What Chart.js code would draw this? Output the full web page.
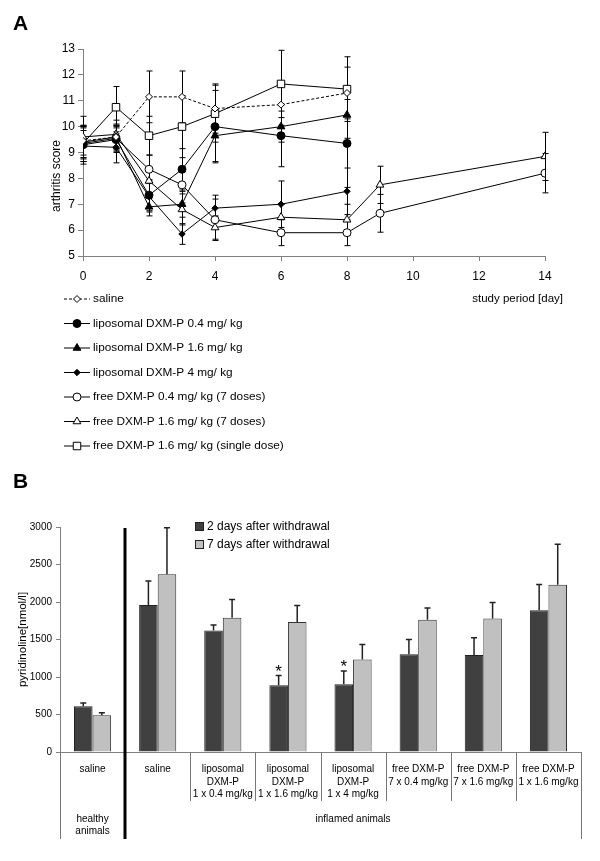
<!DOCTYPE html>
<html>
<head>
<meta charset="utf-8">
<script src="https://cdn.jsdelivr.net/npm/chart.js@4.4.0/dist/chart.umd.min.js"></script>
<style>
  body { margin: 0; background: #fff; width: 600px; height: 861px; position: relative; overflow: hidden;
         font-family: "Liberation Sans", Arial, sans-serif; }
  canvas { position: absolute; left: 0; }
  #cA { top: 0; }
  #cB { top: 458px; }
  .panel { position: absolute; font-weight: bold; font-size: 21px; z-index: 2; }
</style>
</head>
<body>
<canvas id="cA" width="600" height="458"></canvas>
<canvas id="cB" width="600" height="403"></canvas>
<div class="panel" style="left:13px; top:11px;">A</div>
<div class="panel" style="left:13px; top:469px;">B</div>
<script>
// ---------- panel A : arthritis score ----------
var daysShort = [0, 1, 2, 3, 4, 6, 8];
var daysLong = [0, 1, 2, 3, 4, 6, 8, 9, 14];

var saline = [9.45, 9.6, 11.15, 11.15, 10.7, 10.85, 11.3];
var salineErr = [0.55, 0.5, 1.0, 1.0, 0.95, 0.8, 1.0];
var lipo04 = [9.3, 9.5, 7.35, 8.35, 10.0, 9.65, 9.35];
var lipo04Err = [0.75, 0.5, 0.6, 0.8, 1.4, 1.2, 1.7];
var lipo16 = [9.4, 9.6, 6.9, 7.0, 9.65, 10.0, 10.45];
var lipo16Err = [0.6, 0.45, 0.35, 0.5, 1.0, 0.6, 0.9];
var lipo4 = [9.25, 9.2, 7.3, 5.85, 6.85, 7.0, 7.5];
var lipo4Err = [0.6, 0.6, 0.6, 0.4, 0.5, 0.9, 0.9];
var free04 = [9.35, 9.55, 8.35, 7.75, 6.4, 5.9, 5.9, 6.65, 8.2];
var free04Err = [0.6, 0.5, 0.55, 0.7, 0.8, 0.5, 0.5, 0.73, 0.76];
var free16 = [9.6, 9.7, 7.9, 6.8, 6.1, 6.5, 6.4, 7.75, 8.85];
var free16Err = [0.8, 0.55, 0.5, 0.6, 0.45, 0.5, 0.6, 0.72, 0.93];
var free16Single = [9.35, 10.75, 9.65, 10.0, 10.5, 11.65, 11.45];
var free16SingleErr = [0.7, 0.8, 0.75, 1.2, 1.1, 1.3, 1.25];

// ---------- panel B : pyridinoline ----------
var groupLabels = [
  ['saline'], ['saline'],
  ['liposomal', 'DXM-P', '1 x 0.4 mg/kg'],
  ['liposomal', 'DXM-P', '1 x 1.6 mg/kg'],
  ['liposomal', 'DXM-P', '1 x 4 mg/kg'],
  ['free DXM-P', '7 x 0.4 mg/kg'],
  ['free DXM-P', '7 x 1.6 mg/kg'],
  ['free DXM-P', '1 x 1.6 mg/kg']
];
var day2 = [610, 1960, 1620, 890, 905, 1305, 1295, 1890];
var day2Err = [45, 320, 75, 130, 175, 195, 230, 345];
var day2Sig = [false, false, false, true, true, false, false, false];
var day7 = [490, 2370, 1790, 1735, 1235, 1765, 1780, 2230];
var day7Err = [35, 620, 245, 220, 200, 155, 215, 540];
var animalGroups = [
  { text: ['healthy', 'animals'], first: 0, last: 0 },
  { text: ['inflamed animals'], first: 1, last: 7 }
];

var FONT = '"Liberation Sans", Arial, sans-serif';

function pts(days, vals) {
  return days.map(function (d, i) { return { x: d, y: vals[i] }; });
}

function line(label, days, vals, errs, shape, fill, radius, dash) {
  return {
    label: label,
    data: pts(days, vals),
    errors: errs,
    borderColor: '#000',
    borderWidth: 1,
    borderDash: dash || [],
    pointStyle: shape,
    pointRadius: radius,
    pointBackgroundColor: fill,
    pointBorderColor: '#000',
    pointBorderWidth: 1,
    tension: 0
  };
}

function drawPt(ctx, ds, x, y) {
  ctx.fillStyle = ds.pointBackgroundColor;
  ctx.strokeStyle = '#000';
  ctx.lineWidth = 1;
  Chart.helpers.drawPoint(ctx, { pointStyle: ds.pointStyle, radius: ds.pointRadius, borderWidth: 1, rotation: 0 }, x, y);
}

// error bars (both directions) behind the markers
var errorBarsA = {
  id: 'errorBarsA',
  beforeDatasetsDraw: function (chart) {
    var ctx = chart.ctx, ys = chart.scales.y;
    ctx.save();
    ctx.strokeStyle = '#000';
    ctx.lineWidth = 1;
    chart.data.datasets.forEach(function (ds, i) {
      chart.getDatasetMeta(i).data.forEach(function (p, j) {
        var v = ds.data[j].y, e = ds.errors[j];
        var top = ys.getPixelForValue(v + e), bot = ys.getPixelForValue(v - e);
        var x = Math.round(p.x) + 0.5;
        ctx.beginPath();
        ctx.moveTo(x, top); ctx.lineTo(x, bot);
        ctx.moveTo(x - 3, top); ctx.lineTo(x + 3, top);
        ctx.moveTo(x - 3, bot); ctx.lineTo(x + 3, bot);
        ctx.stroke();
      });
    });
    ctx.restore();
  }
};

// legend list, axis titles
var legendA = {
  id: 'legendA',
  afterDraw: function (chart) {
    var ctx = chart.ctx, area = chart.chartArea;
    ctx.save();
    ctx.fillStyle = '#000';
    ctx.font = '11.5px ' + FONT;
    ctx.textBaseline = 'middle';
    ctx.textAlign = 'right';
    ctx.fillText('study period [day]', area.right + 18, 299);

    ctx.save();
    ctx.translate(57, 176);
    ctx.rotate(-Math.PI / 2);
    ctx.textAlign = 'center';
    ctx.font = '12px ' + FONT;
    ctx.fillText('arthritis score', 0, 0);
    ctx.restore();

    chart.data.datasets.forEach(function (ds, i) {
      var y = 299 + i * 24.5;
      ctx.strokeStyle = '#000';
      ctx.lineWidth = 1;
      ctx.setLineDash(ds.borderDash);
      ctx.beginPath();
      ctx.moveTo(64, y); ctx.lineTo(90, y);
      ctx.stroke();
      ctx.setLineDash([]);
      drawPt(ctx, ds, 77, y);
      ctx.fillStyle = '#000';
      ctx.textAlign = 'left';
      ctx.font = '11.8px ' + FONT;
      ctx.fillText(ds.label, 93, y);
    });
    ctx.restore();
  }
};

new Chart(document.getElementById('cA'), {
  type: 'line',
  data: {
    datasets: [
      line('saline', daysShort, saline, salineErr, 'rectRot', '#fff', 3.5, [3, 2]),
      line('liposomal DXM-P 0.4 mg/ kg', daysShort, lipo04, lipo04Err, 'circle', '#000', 4),
      line('liposomal DXM-P 1.6 mg/ kg', daysShort, lipo16, lipo16Err, 'triangle', '#000', 4.5),
      line('liposomal DXM-P 4 mg/ kg', daysShort, lipo4, lipo4Err, 'rectRot', '#000', 3.2),
      line('free DXM-P 0.4 mg/ kg (7 doses)', daysLong, free04, free04Err, 'circle', '#fff', 4),
      line('free DXM-P 1.6 mg/ kg (7 doses)', daysLong, free16, free16Err, 'triangle', '#fff', 4.5),
      line('free DXM-P 1.6 mg/ kg (single dose)', daysShort, free16Single, free16SingleErr, 'rect', '#fff', 5.3)
    ]
  },
  options: {
    responsive: false,
    animation: false,
    layout: { padding: { left: 0, right: 55, top: 49, bottom: 170 } },
    plugins: { legend: { display: false }, tooltip: { enabled: false } },
    scales: {
      x: {
        type: 'linear', min: 0, max: 14,
        ticks: { stepSize: 2, color: '#000', font: { size: 12, family: FONT }, padding: 8 },
        grid: { drawOnChartArea: false, tickLength: 5, color: '#808080' },
        border: { color: '#808080' },
        afterFit: function (s) { s.height = 32; }
      },
      y: {
        min: 5, max: 13,
        ticks: { stepSize: 1, color: '#000', font: { size: 12, family: FONT }, padding: 3 },
        grid: { drawOnChartArea: false, tickLength: 5, color: '#808080' },
        border: { color: '#808080' },
        afterFit: function (s) { s.width = 83; }
      }
    }
  },
  plugins: [errorBarsA, legendA]
});

// ---------- panel B plugins ----------
var errorBarsB = {
  id: 'errorBarsB',
  afterDatasetsDraw: function (chart) {
    var ctx = chart.ctx, ys = chart.scales.y;
    ctx.save();
    ctx.strokeStyle = '#222';
    ctx.lineWidth = 1.5;
    chart.data.datasets.forEach(function (ds, i) {
      chart.getDatasetMeta(i).data.forEach(function (bar, j) {
        var top = ys.getPixelForValue(ds.data[j] + ds.errors[j]);
        var x = bar.x;
        ctx.beginPath();
        ctx.moveTo(x, bar.y); ctx.lineTo(x, top);
        ctx.moveTo(x - 3, top); ctx.lineTo(x + 3, top);
        ctx.stroke();
        if (ds.sig && ds.sig[j]) {
          ctx.fillStyle = '#000';
          ctx.font = '17px ' + FONT;
          ctx.textAlign = 'center';
          ctx.textBaseline = 'alphabetic';
          ctx.fillText('*', x, top + 1);
        }
      });
    });
    ctx.restore();
  }
};

var groupsB = {
  id: 'groupsB',
  afterDraw: function (chart) {
    var ctx = chart.ctx, xs = chart.scales.x, area = chart.chartArea;
    var n = chart.data.labels.length;
    var half = (xs.getPixelForValue(1) - xs.getPixelForValue(0)) / 2;
    var edges = [];
    for (var i = 0; i < n; i++) edges.push(xs.getPixelForValue(i) - half);
    edges.push(xs.getPixelForValue(n - 1) + half);
    var longEnd = 381, shortEnd = 343;
    ctx.save();
    edges.forEach(function (x, i) {
      var isGroupEdge = animalGroups.some(function (g) { return g.first === i || g.last + 1 === i; });
      ctx.beginPath();
      if (i === 1) {
        ctx.strokeStyle = '#000';
        ctx.lineWidth = 3;
        ctx.moveTo(Math.round(x), area.top + 1);
        ctx.lineTo(Math.round(x), longEnd);
      } else {
        ctx.strokeStyle = '#777';
        ctx.lineWidth = 1;
        ctx.moveTo(Math.round(x) + 0.5, area.bottom);
        ctx.lineTo(Math.round(x) + 0.5, isGroupEdge ? longEnd : shortEnd);
      }
      ctx.stroke();
    });
    ctx.fillStyle = '#000';
    ctx.font = '10px ' + FONT;
    ctx.textAlign = 'center';
    ctx.textBaseline = 'middle';
    animalGroups.forEach(function (g) {
      var cx = (edges[g.first] + edges[g.last + 1]) / 2;
      g.text.forEach(function (t, k) { ctx.fillText(t, cx, 361 + k * 12.5); });
    });

    // legend inside the plot
    chart.data.datasets.forEach(function (ds, i) {
      var y = 69 + i * 18;
      ctx.fillStyle = ds.backgroundColor;
      ctx.fillRect(196, y - 4, 7, 7);
      ctx.strokeStyle = '#222';
      ctx.lineWidth = 1;
      ctx.strokeRect(195.5, y - 4.5, 8, 8);
      ctx.fillStyle = '#000';
      ctx.font = '12px ' + FONT;
      ctx.textAlign = 'left';
      ctx.fillText(ds.label, 207, y);
    });
    ctx.restore();
  }
};

new Chart(document.getElementById('cB'), {
  type: 'bar',
  data: {
    labels: groupLabels,
    datasets: [
      { label: '2 days after withdrawal', data: day2, errors: day2Err, sig: day2Sig,
        backgroundColor: '#404040', borderColor: '#222', borderWidth: 1 },
      { label: '7 days after withdrawal', data: day7, errors: day7Err,
        backgroundColor: '#c0c0c0', borderColor: '#333', borderWidth: 1 }
    ]
  },
  options: {
    responsive: false,
    animation: false,
    categoryPercentage: 0.57,
    barPercentage: 1.0,
    layout: { padding: { left: 0, right: 19, top: 69, bottom: 59 } },
    plugins: { legend: { display: false }, tooltip: { enabled: false } },
    scales: {
      x: {
        ticks: { color: '#000', font: { size: 10, family: FONT, lineHeight: 1.25 }, padding: 3,
                 maxRotation: 0, autoSkip: false },
        grid: { display: false },
        border: { color: '#808080' },
        afterFit: function (s) { s.height = 50; }
      },
      y: {
        min: 0, max: 3000,
        ticks: { stepSize: 500, color: '#000', font: { size: 10, family: FONT }, padding: 4,
                 callback: function (v) { return String(v); } },
        grid: { drawOnChartArea: false, tickLength: 4, color: '#808080' },
        border: { color: '#808080' },
        title: { display: true, text: 'pyridinoline[nmol/l]', color: '#000',
                 font: { size: 11.5, family: FONT }, padding: { top: 16, bottom: 0 } },
        afterFit: function (s) { s.width = 60; }
      }
    }
  },
  plugins: [errorBarsB, groupsB]
});
</script>
</body>
</html>
